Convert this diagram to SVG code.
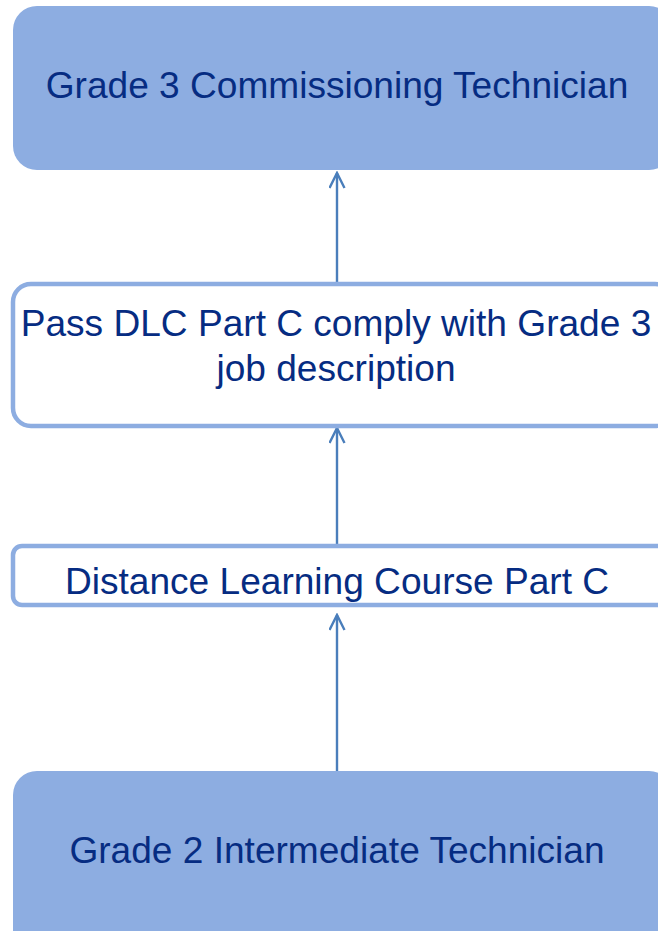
<svg xmlns="http://www.w3.org/2000/svg" width="658" height="931" viewBox="0 0 658 931">
<defs>
<style>
.filled{fill:#8DADE1;stroke:none}
.outline{fill:#FFFFFF;stroke:#8DADE1;stroke-width:4.5}
.lbl{font-family:"Liberation Sans",Arial,sans-serif;font-size:37.1px;fill:#062C82;text-anchor:middle}
.conn{stroke:#4A7EBB;stroke-width:2.4;fill:none}
</style>
<marker id="arr" markerWidth="18" markerHeight="18" refX="16" refY="8" orient="auto" markerUnits="userSpaceOnUse">
<path d="M1,0.5 L16,8 L1,15.5" fill="none" stroke="#4A7EBB" stroke-width="2.4"/>
</marker>
</defs>
<rect width="658" height="931" fill="#FFFFFF"/>
<g id="connectors">
<line class="conn" x1="337" y1="284" x2="337" y2="173" marker-end="url(#arr)"/>
<line class="conn" x1="337" y1="546" x2="337" y2="428" marker-end="url(#arr)"/>
<line class="conn" x1="337" y1="771" x2="337" y2="615" marker-end="url(#arr)"/>
</g>
<g id="grade3">
<rect class="filled" x="13" y="6" width="660" height="164" rx="24" ry="24"/>
<text class="lbl" x="337" y="98">Grade 3 Commissioning Technician</text>
</g>
<g id="passdlc">
<rect class="outline" x="13" y="284" width="660" height="142" rx="18" ry="18"/>
<text class="lbl" x="336" y="336">Pass DLC Part C comply with Grade 3</text>
<text class="lbl" x="336" y="381">job description</text>
</g>
<g id="dlc">
<rect class="outline" x="13" y="546" width="660" height="59" rx="9" ry="9"/>
<text class="lbl" x="337" y="594">Distance Learning Course Part C</text>
</g>
<g id="grade2">
<rect class="filled" x="13" y="771" width="660" height="190" rx="24" ry="24"/>
<text class="lbl" x="337" y="863">Grade 2 Intermediate Technician</text>
</g>
</svg>
